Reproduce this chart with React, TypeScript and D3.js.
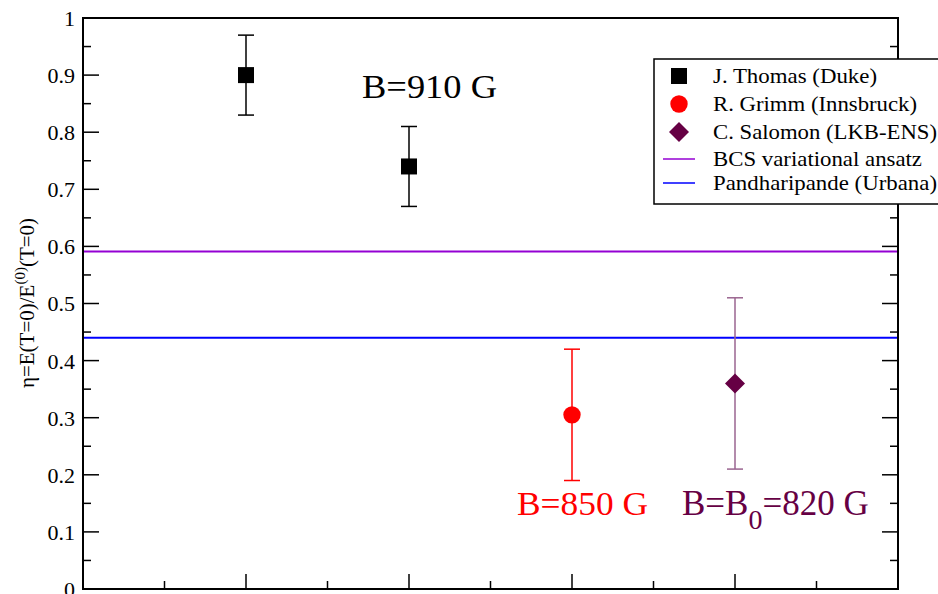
import React from "react";
import * as d3 from "d3";

const dukeX = [1, 2];
const dukeY = [0.9, 0.74];
const dukeLo = [0.83, 0.67];
const dukeHi = [0.97, 0.81];

const innsX = [3];
const innsY = [0.305];
const innsLo = [0.19];
const innsHi = [0.42];

const lkbX = [4];
const lkbY = [0.36];
const lkbLo = [0.21];
const lkbHi = [0.51];

const bcsValue = 0.591;
const pandValue = 0.44;

const yTicks = [0, 0.1, 0.2, 0.3, 0.4, 0.5, 0.6, 0.7, 0.8, 0.9, 1];
const yTickLabels = ["0", "0.1", "0.2", "0.3", "0.4", "0.5", "0.6", "0.7", "0.8", "0.9", "1"];
const xMajor = [1, 2, 3, 4];
const xMinor = [0.5, 1.5, 2.5, 3.5, 4.5];

const legendLabels = [
  "J. Thomas (Duke)",
  "R. Grimm (Innsbruck)",
  "C. Salomon (LKB-ENS)",
  "BCS variational ansatz",
  "Pandharipande (Urbana)",
];
const legendWidths = [164, 204, 224, 209, 224];

const W = 938;
const H = 594;
const L = 83, R = 898, T = 18, B = 589;
const FONT = "Liberation Serif, DejaVu Serif, Times New Roman, serif";

export default function App() {
  const x = d3.scaleLinear().domain([0, 5]).range([L, R]);
  const y = d3.scaleLinear().domain([0, 1]).range([B, T]);
  const yMinor = d3.range(0.05, 1, 0.1);

  const errBar = (xv: number, lo: number, hi: number, color: string, key: string) => (
    <g key={key} stroke={color} strokeWidth={1.5}>
      <line x1={x(xv)} x2={x(xv)} y1={y(lo)} y2={y(hi)} />
      <line x1={x(xv) - 8} x2={x(xv) + 8} y1={y(lo)} y2={y(lo)} />
      <line x1={x(xv) - 8} x2={x(xv) + 8} y1={y(hi)} y2={y(hi)} />
    </g>
  );

  const diamond = (cx: number, cy: number, r: number) =>
    `M${cx},${cy - r}L${cx + r},${cy}L${cx},${cy + r}L${cx - r},${cy}Z`;

  const legRowY = [76, 104, 132, 159, 183];
  const legSymX = 679;
  const legTextX = 713;
  const ts = { fontFamily: FONT };

  return (
    <svg width={W} height={H} style={{ position: "absolute", left: 0, top: 0, background: "#fff", fontFamily: FONT }}>
      <rect x={0} y={0} width={W} height={H} fill="#fff" />
      {/* reference lines */}
      <line x1={L} x2={R} y1={y(bcsValue)} y2={y(bcsValue)} stroke="#9400d3" strokeWidth={2} />
      <line x1={L} x2={R} y1={y(pandValue)} y2={y(pandValue)} stroke="#0000ff" strokeWidth={2} />

      {/* y ticks left and right */}
      {yTicks.map((t, i) => (
        <g key={"yt" + i} stroke="#000" strokeWidth={1.5}>
          <line x1={L} x2={L + 16} y1={y(t)} y2={y(t)} />
          <line x1={R} x2={R - 16} y1={y(t)} y2={y(t)} />
        </g>
      ))}
      {yMinor.map((t, i) => (
        <g key={"ym" + i} stroke="#000" strokeWidth={1.5}>
          <line x1={L} x2={L + 8} y1={y(t)} y2={y(t)} />
          <line x1={R} x2={R - 8} y1={y(t)} y2={y(t)} />
        </g>
      ))}
      {yTicks.map((t, i) => (
        <text key={"yl" + i} style={ts} x={L - 8} y={y(t)} dy="0.36em" textAnchor="end" fontSize={22} fill="#000">
          {yTickLabels[i]}
        </text>
      ))}
      {/* x ticks bottom */}
      {xMajor.map((t, i) => (
        <line key={"xt" + i} x1={x(t)} x2={x(t)} y1={B} y2={B - 15} stroke="#000" strokeWidth={1.5} />
      ))}
      {xMinor.map((t, i) => (
        <line key={"xm" + i} x1={x(t)} x2={x(t)} y1={B} y2={B - 8} stroke="#000" strokeWidth={1.5} />
      ))}

      {/* frame */}
      <rect x={L} y={T} width={R - L} height={B - T} fill="none" stroke="#000" strokeWidth={2} />

      {/* error bars */}
      {dukeX.map((v, i) => errBar(v, dukeLo[i], dukeHi[i], "#000", "de" + i))}
      {innsX.map((v, i) => errBar(v, innsLo[i], innsHi[i], "#ff0000", "ie" + i))}
      {lkbX.map((v, i) => errBar(v, lkbLo[i], lkbHi[i], "#9a6590", "le" + i))}

      {/* markers */}
      {dukeX.map((v, i) => (
        <rect key={"dm" + i} x={x(v) - 8} y={y(dukeY[i]) - 8} width={16} height={16} fill="#000" />
      ))}
      {innsX.map((v, i) => (
        <circle key={"im" + i} cx={x(v)} cy={y(innsY[i])} r={8.7} fill="#ff0000" />
      ))}
      {lkbX.map((v, i) => (
        <path key={"lm" + i} d={diamond(x(v), y(lkbY[i]), 10)} fill="#660044" />
      ))}

      {/* annotations */}
      <text style={ts} x={362} y={98} fontSize={34} fill="#000" textLength={135} lengthAdjust="spacingAndGlyphs">B=910 G</text>
      <text style={ts} x={517} y={515} fontSize={34} fill="#ff0000" textLength={131} lengthAdjust="spacingAndGlyphs">B=850 G</text>
      <text style={ts} x={682} y={515} fontSize={35} fill="#660044">
        B=B<tspan fontSize={28} dy={14}>0</tspan><tspan dy={-14}>=820 G</tspan>
      </text>

      {/* y label */}
      <text style={ts} transform="translate(34,303) rotate(-90)" textAnchor="middle" fontSize={21} fill="#000">
        η=E(T=0)/E<tspan fontSize={15} dy={-9}>(0)</tspan><tspan dy={9}>(T=0)</tspan>
      </text>

      {/* legend */}
      <rect x={654} y={59} width={300} height={145} fill="#fff" stroke="#000" strokeWidth={1.5} />
      <rect x={legSymX - 8} y={legRowY[0] - 8} width={16} height={16} fill="#000" />
      <circle cx={legSymX} cy={legRowY[1]} r={8.7} fill="#ff0000" />
      <path d={diamond(legSymX, legRowY[2], 10)} fill="#660044" />
      <line x1={663} x2={695} y1={legRowY[3]} y2={legRowY[3]} stroke="#9400d3" strokeWidth={1.5} />
      <line x1={663} x2={695} y1={legRowY[4]} y2={legRowY[4]} stroke="#0000ff" strokeWidth={1.5} />
      {legendLabels.map((s, i) => (
        <text key={"lg" + i} style={ts} x={legTextX} y={legRowY[i]} dy="0.35em" fontSize={21} fill="#000"
          textLength={legendWidths[i]} lengthAdjust="spacingAndGlyphs">
          {s}
        </text>
      ))}
    </svg>
  );
}
